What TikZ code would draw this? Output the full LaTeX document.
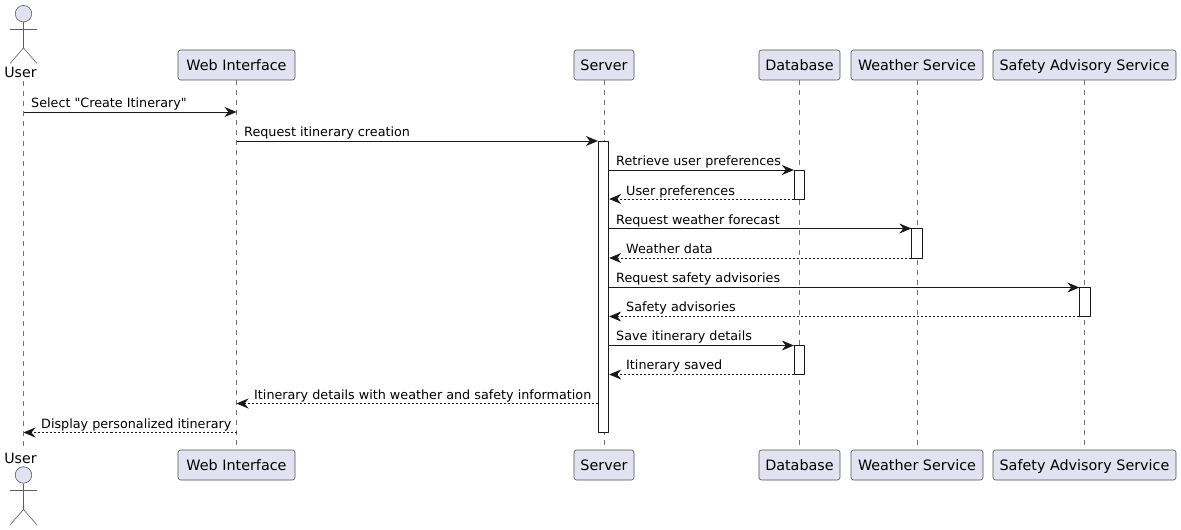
\documentclass[tikz,border=0pt]{standalone}
\usepackage{fontspec}
\setmainfont{DejaVu Sans}[Ligatures=TeXOff]
\usetikzlibrary{arrows.meta}
\definecolor{headfill}{HTML}{E2E2F0}
\definecolor{umlline}{HTML}{181818}
\tikzset{
  head_box/.style={draw=umlline!75,fill=headfill,rounded corners=2.5bp,line width=0.6bp,minimum height=30bp,inner sep=0pt,text height=12bp,text depth=1.5bp,font=\fontsize{14.4}{16}\selectfont},
  actor_text/.style={inner sep=0pt,minimum height=17bp,font=\fontsize{14.2}{16}\selectfont},
  actor_line/.style={draw=umlline!70,line width=0.6bp},
  life_line/.style={draw=umlline!60,line width=0.6bp,dash pattern=on 5bp off 5bp},
  act_bar/.style={draw=umlline,fill=white,line width=0.8bp,minimum width=10.5bp,inner sep=0pt},
  msg_text/.style={anchor=base west,inner sep=0pt,font=\fontsize{12.8}{15}\selectfont},
  call_arrow/.style={draw=umlline,line width=0.8bp,-{Stealth[length=12bp,width=10bp,inset=4bp]}},
  back_arrow/.style={call_arrow,dash pattern=on 2bp off 2bp},
}
\begin{document}
\begin{tikzpicture}[x=1bp,y=-1bp,line join=bevel]
%%
\useasboundingbox (0,0) rectangle (1181,530);
  \node (user_top) at (20.5,72) [actor_text] {User};
  \node (web_top) at (236.5,65) [head_box,minimum width=117bp] {Web Interface};
  \node (server_top) at (604,65) [head_box,minimum width=60bp] {Server};
  \node (db_top) at (799.5,65) [head_box,minimum width=81bp] {Database};
  \node (weather_top) at (917,65) [head_box,minimum width=132bp] {Weather Service};
  \node (safety_top) at (1084.5,65) [head_box,minimum width=183bp] {Safety Advisory Service};
  \node (user_bot) at (20.5,458) [actor_text] {User};
  \node (web_bot) at (236.5,465) [head_box,minimum width=117bp] {Web Interface};
  \node (server_bot) at (604,465) [head_box,minimum width=60bp] {Server};
  \node (db_bot) at (799.5,465) [head_box,minimum width=81bp] {Database};
  \node (weather_bot) at (917,465) [head_box,minimum width=132bp] {Weather Service};
  \node (safety_bot) at (1084.5,465) [head_box,minimum width=183bp] {Safety Advisory Service};
%
  \node (user_head_top) at (23.5,13.7) [circle,draw=umlline!70,fill=headfill,line width=0.6bp,minimum size=16.5bp,inner sep=0pt] {};
  \coordinate (user_hip_top) at (23.5,48);
  \draw [actor_line] (user_head_top) -- (user_hip_top);
  \draw [actor_line] (10,29) -- (37,29);
  \draw [actor_line] (10,63.5) -- (user_hip_top) -- (37,63.5);
  \node (user_head_bot) at (23.5,475) [circle,draw=umlline!70,fill=headfill,line width=0.6bp,minimum size=16.5bp,inner sep=0pt] {};
  \coordinate (user_hip_bot) at (23.5,509.5);
  \draw [actor_line] (user_head_bot) -- (user_hip_bot);
  \draw [actor_line] (10,490) -- (37,490);
  \draw [actor_line] (10,525) -- (user_hip_bot) -- (37,525);
%
  \coordinate (user_life_top) at (23.5,81);
  \coordinate (user_life_bot) at (23.5,449);
  \draw [life_line] (user_life_top) -- (user_life_bot);
  \draw [life_line] (web_top) -- (web_bot);
  \draw [life_line] (server_top) -- (server_bot);
  \draw [life_line] (db_top) -- (db_bot);
  \draw [life_line] (weather_top) -- (weather_bot);
  \draw [life_line] (safety_top) -- (safety_bot);
%
  \node (bar_server) at (603.5,286.5) [act_bar,minimum height=291bp] {};
  \node (bar_db_a) at (799.5,184.5) [act_bar,minimum height=29bp] {};
  \node (bar_weather) at (917,243) [act_bar,minimum height=30bp] {};
  \node (bar_safety) at (1085,301.5) [act_bar,minimum height=29bp] {};
  \node (bar_db_b) at (799.5,359.5) [act_bar,minimum height=29bp] {};
%
  \coordinate (row_1) at (0,112);
  \coordinate (row_2) at (0,141);
  \coordinate (row_3) at (0,170);
  \coordinate (row_4) at (0,199);
  \coordinate (row_5) at (0,228.5);
  \coordinate (row_6) at (0,258);
  \coordinate (row_7) at (0,287.5);
  \coordinate (row_8) at (0,316.5);
  \coordinate (row_9) at (0,345.5);
  \coordinate (row_10) at (0,374.5);
  \coordinate (row_11) at (0,403.5);
  \coordinate (row_12) at (0,432.5);
%
  \draw [call_arrow] (user_life_top |- row_1) -- (web_top |- row_1);
  \draw [call_arrow] (web_top |- row_2) -- (bar_server.west |- row_2);
  \draw [call_arrow] (bar_server.east |- row_3) -- (bar_db_a.west |- row_3);
  \draw [back_arrow] (bar_db_a.west |- row_4) -- (bar_server.east |- row_4);
  \draw [call_arrow] (bar_server.east |- row_5) -- (bar_weather.west |- row_5);
  \draw [back_arrow] (bar_weather.west |- row_6) -- (bar_server.east |- row_6);
  \draw [call_arrow] (bar_server.east |- row_7) -- (bar_safety.west |- row_7);
  \draw [back_arrow] (bar_safety.west |- row_8) -- (bar_server.east |- row_8);
  \draw [call_arrow] (bar_server.east |- row_9) -- (bar_db_b.west |- row_9);
  \draw [back_arrow] (bar_db_b.west |- row_10) -- (bar_server.east |- row_10);
  \draw [back_arrow] (bar_server.west |- row_11) -- (web_top |- row_11);
  \draw [back_arrow] (web_top |- row_12) -- (user_life_top |- row_12);
%
  \node (msg_1) at (31,107.5) [msg_text] {Select "Create Itinerary"};
  \node (msg_2) at (244,137) [msg_text] {Request itinerary creation};
  \node (msg_3) at (616,166) [msg_text] {Retrieve user preferences};
  \node (msg_4) at (626,195.5) [msg_text] {User preferences};
  \node (msg_5) at (616,224.5) [msg_text] {Request weather forecast};
  \node (msg_6) at (626,254) [msg_text] {Weather data};
  \node (msg_7) at (616,283) [msg_text] {Request safety advisories};
  \node (msg_8) at (626,312) [msg_text] {Safety advisories};
  \node (msg_9) at (616,341) [msg_text] {Save itinerary details};
  \node (msg_10) at (626,370) [msg_text] {Itinerary saved};
  \node (msg_11) at (254,399) [msg_text] {Itinerary details with weather and safety information};
  \node (msg_12) at (41,428) [msg_text] {Display personalized itinerary};
%
\end{tikzpicture}
\end{document}
